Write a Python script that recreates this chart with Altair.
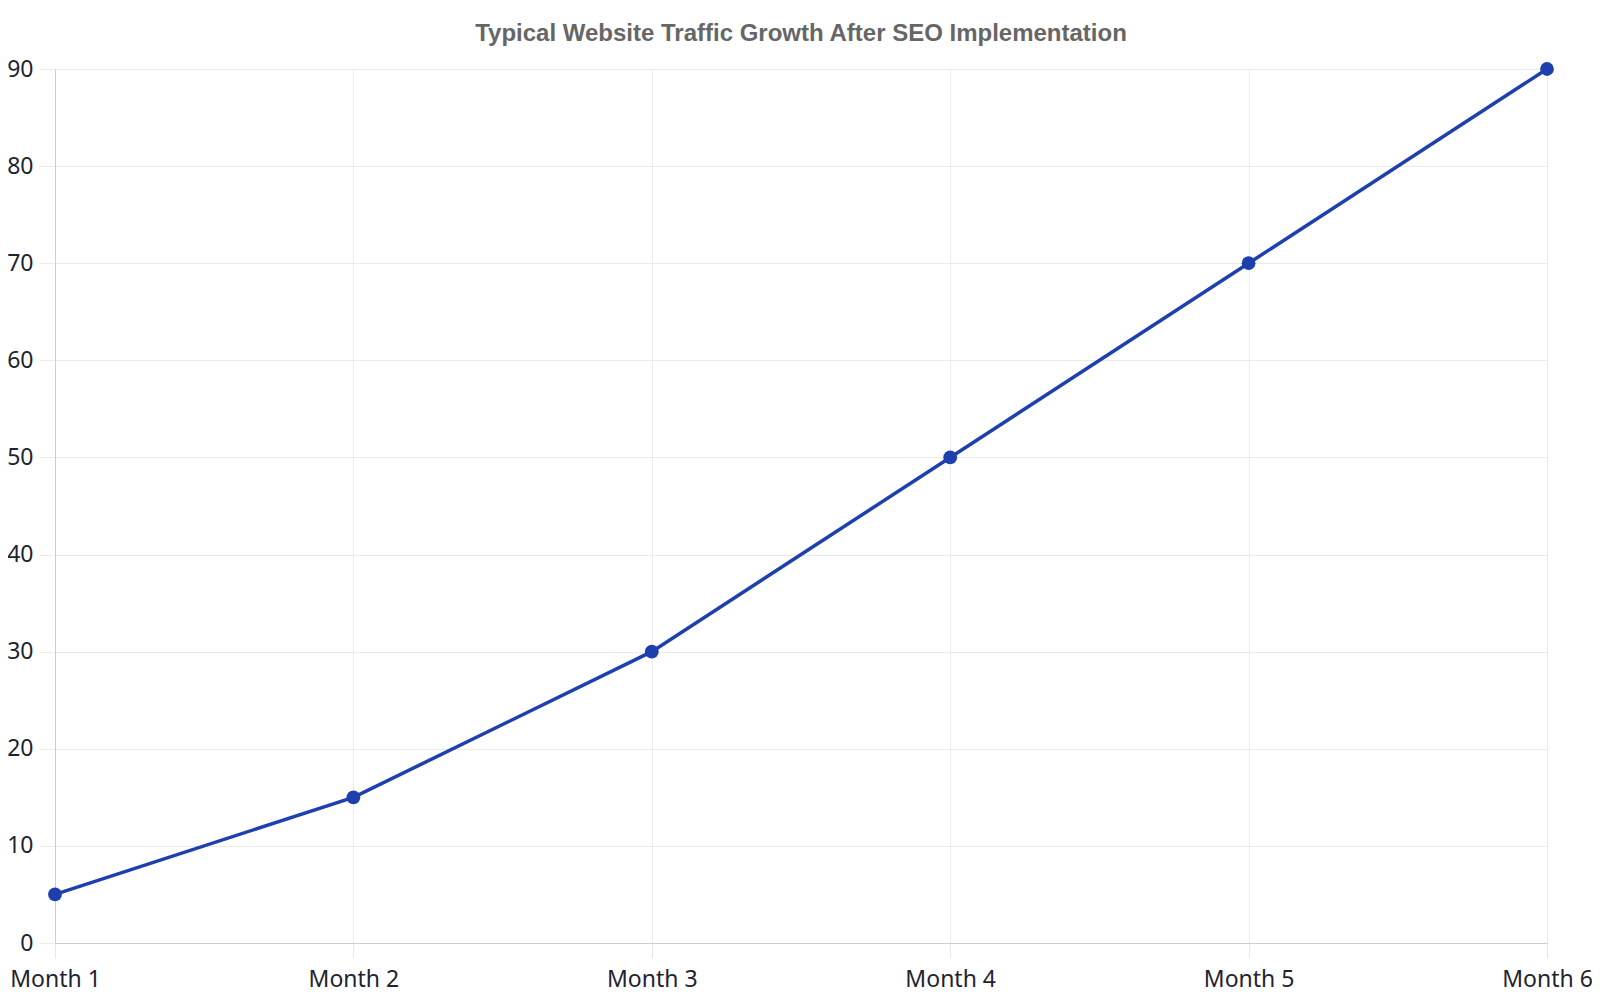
import altair as alt
import pandas as pd

months = ["Month 1", "Month 2", "Month 3", "Month 4", "Month 5", "Month 6"]
traffic = [5, 15, 30, 50, 70, 90]
y_ticks = [0, 10, 20, 30, 40, 50, 60, 70, 80, 90]

df = pd.DataFrame({"month": months, "traffic": traffic})

LINE_COLOR = "#1e40af"
LABEL_FONT = "Noto Sans"

base = alt.Chart(df).encode(
    x=alt.X(
        "month:N",
        sort=months,
        scale=alt.Scale(type="point", padding=0),
        axis=alt.Axis(
            title=None,
            labelAngle=0,
            labelFont=LABEL_FONT,
            labelFontSize=23,
            labelColor="#1f2330",
            labelPadding=10,
            tickSize=15,
            tickColor="#e6e6e6",
            domainColor="#cccccc",
            gridColor="#ebebeb",
            grid=True,
        ),
    ),
    y=alt.Y(
        "traffic:Q",
        scale=alt.Scale(domain=[0, 90], nice=False),
        axis=alt.Axis(
            title=None,
            values=y_ticks,
            labelFont=LABEL_FONT,
            labelFontSize=23,
            labelColor="#1f2330",
            labelPadding=6,
            tickSize=16,
            tickColor="#ebebeb",
            domainColor="#cccccc",
            gridColor="#ebebeb",
            grid=True,
        ),
    ),
)

line = base.mark_line(color=LINE_COLOR, strokeWidth=3.5)
points = base.mark_point(color=LINE_COLOR, filled=True, opacity=1, size=190)

chart = (
    (line + points)
    .properties(
        width=1492,
        height=874,
        autosize=alt.AutoSizeParams(type="none"),
        padding={"left": 47, "top": 61, "right": 45, "bottom": 49},
        title=alt.TitleParams(
            "Typical Website Traffic Growth After SEO Implementation",
            font="Liberation Sans",
            fontSize=24,
            fontWeight="bold",
            color="#666666",
            anchor="middle",
            offset=12,
        ),
    )
    .configure_view(stroke=None)
)

chart.save("out.html", embed_options={"renderer": "svg", "actions": False})
